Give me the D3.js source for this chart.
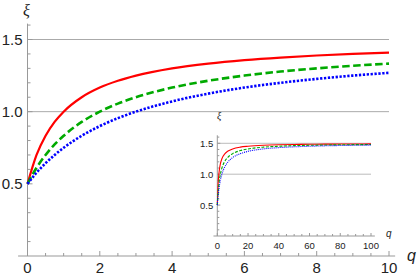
<!DOCTYPE html>
<html>
<head>
<meta charset="utf-8">
<script src="https://cdn.jsdelivr.net/npm/d3@7"></script>
<style>
  html, body { margin: 0; padding: 0; background: #fff; }
  svg { display: block; }
  .tick-label { font-family: "Liberation Sans", Arial, sans-serif; fill: #222; }
</style>
</head>
<body>
<div id="chart"></div>
<script>
// Main panel samples (q from 0 to 10)
const qMain = [0, 0.25, 0.5, 0.75, 1, 1.5, 2, 2.5, 3, 4, 5, 6, 7, 8, 9, 10];
const redMain = [0.5, 0.70, 0.833, 0.929, 1.0, 1.10, 1.167, 1.214, 1.25, 1.30, 1.333, 1.357, 1.375, 1.389, 1.40, 1.409];
const greenMain = [0.5, 0.611, 0.70, 0.773, 0.833, 0.929, 1.0, 1.056, 1.10, 1.167, 1.214, 1.25, 1.278, 1.30, 1.318, 1.333];
const blueMain = [0.5, 0.577, 0.643, 0.70, 0.75, 0.833, 0.90, 0.955, 1.0, 1.071, 1.125, 1.167, 1.20, 1.227, 1.25, 1.269];

// Inset samples (q from 0 to 100)
const qInset = [0, 0.5, 1, 2, 3, 5, 7, 10, 15, 20, 30, 40, 50, 60, 70, 80, 90, 100];
const redInset = [0.5, 0.833, 1.0, 1.167, 1.25, 1.333, 1.375, 1.409, 1.438, 1.452, 1.468, 1.476, 1.480, 1.484, 1.486, 1.488, 1.489, 1.490];
const greenInset = [0.5, 0.70, 0.833, 1.0, 1.10, 1.214, 1.278, 1.333, 1.382, 1.409, 1.438, 1.452, 1.462, 1.468, 1.472, 1.476, 1.478, 1.480];
const blueInset = [0.5, 0.643, 0.75, 0.90, 1.0, 1.125, 1.20, 1.269, 1.333, 1.370, 1.409, 1.430, 1.443, 1.452, 1.459, 1.464, 1.468, 1.471];

// Ticks
const mainXTicks = [0, 2, 4, 6, 8, 10];
const mainYTicks = [0.5, 1.0, 1.5];
const insetXTicks = [0, 20, 40, 60, 80, 100];
const insetYTicks = [0.5, 1.0, 1.5];
const gridValues = [1.0, 1.5];

const W = 417, H = 278;
const svg = d3.select('#chart').append('svg')
    .attr('width', W)
    .attr('height', H);

const axisColor = '#999';
const gridColor = '#aaa';

function drawPanel(opts) {
    const g = svg.append('g');
    const x = opts.x, y = opts.y;

    // Gridlines
    gridValues.forEach(v => {
        g.append('line')
            .attr('x1', x(0)).attr('x2', x(opts.xMax))
            .attr('y1', y(v)).attr('y2', y(v))
            .attr('stroke', gridColor)
            .attr('stroke-width', opts.gridWidth);
    });

    // Axis lines
    g.append('line')
        .attr('x1', x(opts.xAxisFrom)).attr('x2', x(opts.xAxisTo))
        .attr('y1', y(0)).attr('y2', y(0))
        .attr('stroke', axisColor).attr('stroke-width', 1);
    g.append('line')
        .attr('x1', x(0)).attr('x2', x(0))
        .attr('y1', y(0)).attr('y2', y(opts.yAxisTo))
        .attr('stroke', axisColor).attr('stroke-width', 1);

    // Minor + major ticks
    opts.xMinor.forEach(v => {
        const major = opts.xTicks.includes(v);
        g.append('line')
            .attr('x1', x(v)).attr('x2', x(v))
            .attr('y1', y(0)).attr('y2', y(0) - (major ? opts.majorLen : opts.minorLen))
            .attr('stroke', axisColor).attr('stroke-width', 1);
    });
    opts.yMinor.forEach(v => {
        const major = opts.yTicks.some(t => Math.abs(t - v) < 1e-6);
        g.append('line')
            .attr('x1', x(0)).attr('x2', x(0) + (major ? opts.majorLen : opts.minorLen))
            .attr('y1', y(v)).attr('y2', y(v))
            .attr('stroke', axisColor).attr('stroke-width', 1);
    });

    // Tick labels
    g.selectAll('.xl').data(opts.xTicks).enter().append('text')
        .attr('class', 'tick-label')
        .attr('x', d => x(d))
        .attr('y', y(0) + opts.xLabelDy)
        .attr('text-anchor', 'middle')
        .style('font-size', opts.fontSize + 'px')
        .text(d => d);
    g.selectAll('.yl').data(opts.yTicks).enter().append('text')
        .attr('class', 'tick-label')
        .attr('x', x(0) - opts.yLabelDx)
        .attr('y', d => y(d))
        .attr('dy', '0.36em')
        .attr('text-anchor', 'end')
        .style('font-size', opts.fontSize + 'px')
        .text(d => d.toFixed(1));

    // Axis titles
    g.append('text')
        .attr('x', opts.xiPos[0]).attr('y', opts.xiPos[1])
        .style('font-family', '"Liberation Serif", "DejaVu Serif", serif')
        .style('font-style', 'italic')
        .style('font-size', opts.xiSize + 'px')
        .attr('fill', '#222')
        .text('ξ');
    g.append('text')
        .attr('x', opts.qPos[0]).attr('y', opts.qPos[1])
        .style('font-family', '"Liberation Sans", Arial, sans-serif')
        .style('font-style', 'italic')
        .style('font-size', opts.qSize + 'px')
        .attr('fill', '#222')
        .text('q');

    // Curves
    const line = d3.line()
        .x(d => x(d[0]))
        .y(d => y(d[1]))
        .curve(d3.curveMonotoneX);

    opts.series.forEach(s => {
        g.append('path')
            .datum(opts.q.map((q, i) => [q, s.values[i]]))
            .attr('fill', 'none')
            .attr('stroke', s.color)
            .attr('stroke-width', s.width)
            .attr('stroke-dasharray', s.dash)
            .attr('d', line);
    });
}

// Main panel
const xMain = d3.scaleLinear().domain([0, 10]).range([27.5, 389]);
const yMain = d3.scaleLinear().domain([0, 1.5]).range([256, 39.5]);

drawPanel({
    x: xMain, y: yMain, xMax: 10,
    xAxisFrom: -0.26, xAxisTo: 10.17, yAxisTo: 1.61,
    xTicks: mainXTicks, yTicks: mainYTicks,
    xMinor: d3.range(0, 10.01, 0.5), yMinor: d3.range(0.1, 1.61, 0.1),
    majorLen: 5, minorLen: 3, gridWidth: 1,
    fontSize: 15, xLabelDy: 17, yLabelDx: 5,
    xiPos: [23, 16], xiSize: 16,
    qPos: [407, 261], qSize: 16,
    q: qMain,
    series: [
        { values: redMain, color: '#ff0000', width: 2.2, dash: null },
        { values: greenMain, color: '#00aa00', width: 2.6, dash: '7.5,3.5' },
        { values: blueMain, color: '#0000ff', width: 2.6, dash: '2.3,1.6' }
    ]
});

// Inset panel
const xIn = d3.scaleLinear().domain([0, 100]).range([217.3, 371]);
const yIn = d3.scaleLinear().domain([0, 1.5]).range([236, 143.3]);

drawPanel({
    x: xIn, y: yIn, xMax: 100,
    xAxisFrom: -2.5, xAxisTo: 102.5, yAxisTo: 1.63,
    xTicks: insetXTicks, yTicks: insetYTicks,
    xMinor: d3.range(0, 100.01, 5), yMinor: d3.range(0.1, 1.61, 0.1),
    majorLen: 3, minorLen: 2, gridWidth: 0.8,
    fontSize: 9.5, xLabelDy: 12.5, yLabelDx: 4,
    xiPos: [217, 119], xiSize: 10,
    qPos: [386, 237], qSize: 10,
    q: qInset,
    series: [
        { values: redInset, color: '#ff0000', width: 1.1, dash: null },
        { values: greenInset, color: '#00aa00', width: 1.1, dash: '3,1.5' },
        { values: blueInset, color: '#0000ff', width: 1.1, dash: '1,1' }
    ]
});
</script>
</body>
</html>
